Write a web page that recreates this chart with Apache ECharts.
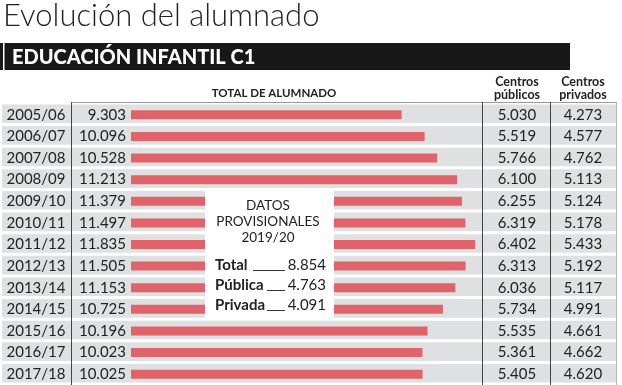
<!DOCTYPE html>
<html><head><meta charset="utf-8">
<script src="https://cdn.jsdelivr.net/npm/echarts@6/dist/echarts.min.js"></script>
<style>html,body{margin:0;padding:0;background:#fff}#c{width:622px;height:385px}</style>
</head><body><div id="c"></div>
<script>
const years = ['2005/06','2006/07','2007/08','2008/09','2009/10','2010/11','2011/12','2012/13','2013/14','2014/15','2015/16','2016/17','2017/18'];
const total = [9303,10096,10528,11213,11379,11497,11835,11505,11153,10725,10196,10023,10025];
const publicos = [5030,5519,5766,6100,6255,6319,6402,6313,6036,5734,5535,5361,5405];
const privados = [4273,4577,4762,5113,5124,5178,5433,5192,5117,4991,4661,4662,4620];
const provTitle = ['DATOS','PROVISIONALES','2019/20'];
const provLabels = ['Total','Pública','Privada'];
const provValues = [8854,4763,4091];

const FONT = 'Lato';
const TXT = '#222';
const GRAY = '#dfe0e2';
const fmt = n => String(n).replace(/\B(?=(\d{3})+(?!\d))/g, '.');

const chart = echarts.init(document.getElementById('c'), null, {renderer:'canvas'});

const graphics = [
  {type:'text', left:3, top:0, z:100, style:{text:'Evolución del alumnado', font:'300 31px Lato', fill:TXT}},
  {type:'rect', shape:{x:0,y:43,width:570,height:27}, z:100, style:{fill:'#181818'}},
  {type:'rect', shape:{x:3,y:43,width:1.5,height:27}, z:101, style:{fill:'#fff'}},
  {type:'text', x:12, y:57.5, z:101, style:{text:'EDUCACIÓN INFANTIL C1', font:'900 20px Lato', fill:'#fff', verticalAlign:'middle'}},
  {type:'text', x:274, y:93, z:100, style:{text:'TOTAL DE ALUMNADO', font:'bold 11.5px Lato', fill:TXT, align:'center', verticalAlign:'middle'}},
  {type:'text', x:517, y:82, z:100, style:{text:'Centros', font:'bold 12.5px Lato', fill:TXT, align:'center', verticalAlign:'middle'}},
  {type:'text', x:517, y:95, z:100, style:{text:'públicos', font:'bold 12.5px Lato', fill:TXT, align:'center', verticalAlign:'middle'}},
  {type:'text', x:583, y:82, z:100, style:{text:'Centros', font:'bold 12.5px Lato', fill:TXT, align:'center', verticalAlign:'middle'}},
  {type:'text', x:583, y:95, z:100, style:{text:'privados', font:'bold 12.5px Lato', fill:TXT, align:'center', verticalAlign:'middle'}},
  {type:'line', shape:{x1:71,y1:102.5,x2:617,y2:102.5}, z:100, style:{stroke:'#9a9a9a', lineWidth:1}},
  {type:'line', shape:{x1:71.5,y1:102,x2:71.5,y2:385}, z:100, style:{stroke:'#444', lineWidth:1}},
  {type:'line', shape:{x1:482.5,y1:102,x2:482.5,y2:385}, z:100, style:{stroke:'#444', lineWidth:1}},
  {type:'line', shape:{x1:550.5,y1:102,x2:550.5,y2:385}, z:100, style:{stroke:'#444', lineWidth:1}},
  {type:'line', shape:{x1:616.5,y1:102,x2:616.5,y2:385}, z:100, style:{stroke:'#b5b5b5', lineWidth:1}},
  {type:'rect', shape:{x:205,y:190,width:129,height:130}, z:100, style:{fill:'#fff'}}
];
provTitle.forEach((t,i)=>{
  graphics.push({type:'text', x:268, y:206+i*16, z:101, style:{text:t, font:'13.5px Lato', fill:TXT, align:'center', verticalAlign:'middle'}});
});
const lineStart = [253, 267, 267];
provLabels.forEach((t,i)=>{
  const y = 265 + i*20;
  graphics.push({type:'text', x:215, y:y, z:101, style:{text:t, font:'bold 15px Lato', fill:TXT, verticalAlign:'middle'}});
  graphics.push({type:'line', shape:{x1:lineStart[i], y1:y+5.5, x2:285, y2:y+5.5}, z:101, style:{stroke:'#333', lineWidth:1}});
  graphics.push({type:'text', x:326, y:y, z:101, style:{text:fmt(provValues[i]), font:'15px Lato', fill:TXT, align:'right', verticalAlign:'middle'}});
});

chart.setOption({
  animation:false,
  backgroundColor:'#fff',
  grid:{left:131, top:104, width:349, height:282.75},
  xAxis:{type:'value', min:0, max:12000, show:false},
  yAxis:{type:'category', data:years, inverse:true, z:5,
    axisLine:{show:false}, axisTick:{show:false}, splitLine:{show:false},
    axisLabel:{margin:95, align:'center', fontSize:15, color:TXT, fontFamily:FONT}},
  series:[
    {type:'custom', z:1, clip:false, silent:true,
     data: years.map((_,i)=>[0, i, publicos[i], privados[i]]),
     encode:{x:0, y:1},
     renderItem:(params, api)=>{
       const c = api.coord([0, api.value(1)]);
       const h = api.size([0,1])[1];
       const bh = h - 3;
       const y0 = c[1] - h/2 + 0.5;
       return {type:'group', children:[
         {type:'rect', shape:{x:2, y:y0, width:614, height:bh}, style:{fill:GRAY}},
         {type:'text', style:{text:fmt(api.value(2)), x:517, y:c[1], align:'center', verticalAlign:'middle', fontSize:15, fontFamily:FONT, fill:TXT}},
         {type:'text', style:{text:fmt(api.value(3)), x:583, y:c[1], align:'center', verticalAlign:'middle', fontSize:15, fontFamily:FONT, fill:TXT}}
       ]};
     }},
    {type:'bar', z:2, data:total, barWidth:9, itemStyle:{color:'#e1636a'},
     label:{show:true, position:'left', distance:5, formatter:p=>fmt(p.value), fontSize:15, color:TXT, fontFamily:FONT}}
  ],
  graphic: graphics
});
</script></body></html>
